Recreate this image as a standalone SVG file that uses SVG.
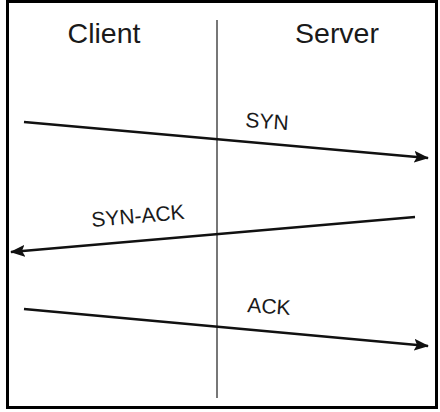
<svg xmlns="http://www.w3.org/2000/svg" width="440" height="412" viewBox="0 0 440 412">
<style>
.lbl{font-family:"Liberation Sans",Arial,sans-serif;fill:#1a1a1a}
.hdr{font-size:28.5px}
.msg{font-size:21px}
.conn{stroke:#111;stroke-width:2.6;fill:none}
</style>
<defs>
<marker id="ah" viewBox="0 0 15 12" refX="14" refY="6" markerWidth="15" markerHeight="12" markerUnits="userSpaceOnUse" orient="auto">
<path d="M0,0 L15,6 L0,12 L3,6 Z" fill="#111"/>
</marker>
</defs>
<rect x="0" y="0" width="440" height="412" fill="#fff"/>
<rect x="7.5" y="1.5" width="429" height="406" fill="none" stroke="#000" stroke-width="3"/>
<g id="client"><text class="lbl hdr" x="104" y="43" text-anchor="middle">Client</text></g>
<g id="server"><text class="lbl hdr" x="337" y="43" text-anchor="middle">Server</text></g>
<g id="timeline"><line x1="217" y1="20" x2="217" y2="398" stroke="#555" stroke-width="1.6"/></g>
<g id="connectors">
<line class="conn" x1="24" y1="122" x2="428" y2="158" marker-end="url(#ah)"/>
<line class="conn" x1="415" y1="217" x2="11" y2="252" marker-end="url(#ah)"/>
<line class="conn" x1="24" y1="309" x2="428" y2="346" marker-end="url(#ah)"/>
</g>
<g id="labels">
<text class="lbl msg" x="245" y="127" transform="rotate(4 245 127)">SYN</text>
<text class="lbl msg" x="92" y="227" transform="rotate(-5 92 227)">SYN-ACK</text>
<text class="lbl msg" x="247" y="312" transform="rotate(4 247 312)">ACK</text>
</g>
</svg>
